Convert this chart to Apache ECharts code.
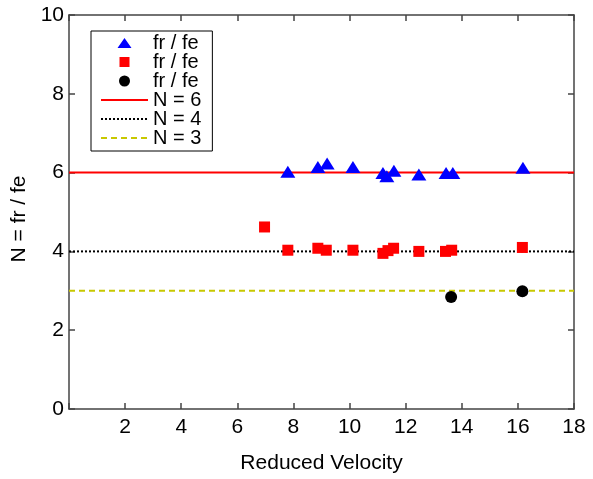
<!DOCTYPE html>
<html>
<head>
<meta charset="utf-8">
<script src="https://cdn.jsdelivr.net/npm/echarts@6/dist/echarts.min.js"></script>
<style>
html,body{margin:0;padding:0;background:#fff;}
#chart{width:593px;height:479px;}
</style>
</head>
<body>
<div id="chart"></div>
<script>
// Data
var triX = [7.80, 8.87, 9.20, 10.12, 11.19, 11.33, 11.58, 12.47, 13.44, 13.68, 16.18];
var triY = [6.02, 6.14, 6.23, 6.14, 5.99, 5.91, 6.05, 5.95, 5.99, 5.99, 6.12];
var sqX = [6.97, 7.80, 8.87, 9.17, 10.12, 11.19, 11.37, 11.57, 12.47, 13.42, 13.64, 16.16];
var sqY = [4.62, 4.03, 4.08, 4.03, 4.03, 3.95, 4.02, 4.08, 4.00, 4.00, 4.03, 4.10];
var circX = [13.62, 16.16];
var circY = [2.84, 2.99];
var lineLevels = [6, 4, 3];
var lineNames = ['N = 6', 'N = 4', 'N = 3'];
var pointNames = ['fr / fe', 'fr / fe\u200b', 'fr / fe\u200b\u200b'];
var xRange = [0, 18];
var yRange = [0, 10];

function pairs(xs, ys) { return xs.map(function (x, i) { return [x, ys[i]]; }); }
function hline(v) { return [[xRange[0], v], [xRange[1], v]]; }

// legend icons drawn in a 47x13 box (degenerate corner points fix the box)
var box = 'M0,0L0.01,0Z M47,13L46.99,13Z ';
var iconTri = 'path://' + box + 'M23.5,1.5L30.5,11.5L16.5,11.5Z';
var iconSq = 'path://' + box + 'M18.5,1.5L28.5,1.5L28.5,11.5L18.5,11.5Z';
var iconCirc = 'path://' + box + 'M18,6.5A5.5,5.5 0 1,0 29,6.5A5.5,5.5 0 1,0 18,6.5Z';

var font = 'Liberation Sans, Arial, sans-serif';
var axisColor = '#444';
var axisLineStyle = { color: axisColor, width: 1.5 };

var chart = echarts.init(document.getElementById('chart'));
chart.setOption({
  animation: false,
  backgroundColor: '#fff',
  textStyle: { fontFamily: font },
  grid: { left: 69, right: 19, top: 15, bottom: 68 },
  legend: {
    orient: 'vertical',
    left: 91, top: 31,
    backgroundColor: '#fff',
    borderColor: '#000', borderWidth: 1,
    padding: [2, 11, 3, 9],
    itemWidth: 47, itemHeight: 13, itemGap: -1,
    symbolKeepAspect: true,
    textStyle: { fontSize: 20, color: '#000', fontFamily: font },
    data: [
      { name: pointNames[0], icon: iconTri },
      { name: pointNames[1], icon: iconSq },
      { name: pointNames[2], icon: iconCirc },
      { name: lineNames[0], itemStyle: { opacity: 0 } },
      { name: lineNames[1], itemStyle: { opacity: 0 } },
      { name: lineNames[2], itemStyle: { opacity: 0 } }
    ],
    formatter: function (n) { return n.replace(/\u200b/g, ''); },
    z: 10
  },
  xAxis: [{
    type: 'value', min: xRange[0], max: xRange[1], interval: 2,
    name: 'Reduced Velocity', nameLocation: 'middle', nameGap: 44,
    nameTextStyle: { fontSize: 21, color: '#000', fontFamily: font },
    axisLine: { show: true, onZero: false, lineStyle: axisLineStyle },
    axisTick: { show: true, inside: true, length: 6, lineStyle: axisLineStyle },
    axisLabel: { fontSize: 21, color: '#000', margin: 8, fontFamily: font,
      formatter: function (v) { return v === 0 ? '' : String(v); } },
    splitLine: { show: false }
  }, {
    type: 'value', position: 'top', min: xRange[0], max: xRange[1], interval: 2,
    axisLine: { show: true, onZero: false, lineStyle: axisLineStyle },
    axisTick: { show: true, inside: true, length: 6, lineStyle: axisLineStyle },
    axisLabel: { show: false }, splitLine: { show: false }
  }],
  yAxis: [{
    type: 'value', min: yRange[0], max: yRange[1], interval: 2,
    name: 'N = fr / fe', nameLocation: 'middle', nameGap: 29,
    nameTextStyle: { fontSize: 21, color: '#000', fontFamily: font, padding: [0, 14, 0, 0] },
    axisLine: { show: true, onZero: false, lineStyle: axisLineStyle },
    axisTick: { show: true, inside: true, length: 6, lineStyle: axisLineStyle },
    axisLabel: { fontSize: 21, color: '#000', margin: 5, fontFamily: font },
    splitLine: { show: false }
  }, {
    type: 'value', position: 'right', min: yRange[0], max: yRange[1], interval: 2,
    axisLine: { show: true, onZero: false, lineStyle: axisLineStyle },
    axisTick: { show: true, inside: true, length: 6, lineStyle: axisLineStyle },
    axisLabel: { show: false }, splitLine: { show: false }
  }],
  series: [
    { name: pointNames[0], type: 'scatter', symbol: 'triangle', symbolSize: [15, 12],
      itemStyle: { color: '#0000ff', opacity: 1 }, data: pairs(triX, triY), z: 5 },
    { name: pointNames[1], type: 'scatter', symbol: 'rect', symbolSize: 11,
      itemStyle: { color: '#ff0000', opacity: 1 }, data: pairs(sqX, sqY), z: 5 },
    { name: pointNames[2], type: 'scatter', symbol: 'circle', symbolSize: 12,
      itemStyle: { color: '#000', opacity: 1 }, data: pairs(circX, circY), z: 5 },
    { name: lineNames[0], type: 'line', symbol: 'none', data: hline(lineLevels[0]),
      lineStyle: { color: '#ff0000', width: 2, type: 'solid' }, itemStyle: { color: '#ff0000' }, z: 3 },
    { name: lineNames[1], type: 'line', symbol: 'none', data: hline(lineLevels[1]),
      lineStyle: { color: '#000', width: 2, type: [2, 2] }, itemStyle: { color: '#000' }, z: 3 },
    { name: lineNames[2], type: 'line', symbol: 'none', data: hline(lineLevels[2]),
      lineStyle: { color: '#c8c800', width: 2, type: [6, 4] }, itemStyle: { color: '#c8c800' }, z: 3 }
  ]
});
</script>
</body>
</html>
